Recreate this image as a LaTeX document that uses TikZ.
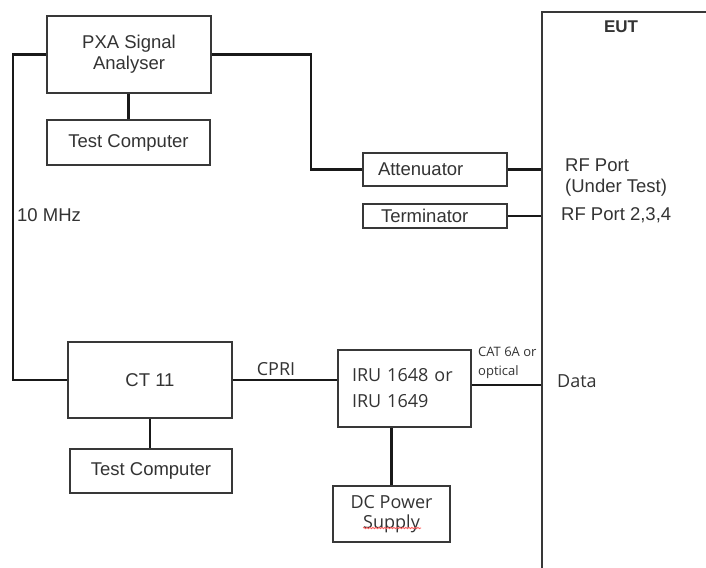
\documentclass[tikz,border=0pt]{standalone}
\usepackage{fontspec}
\setmainfont{Liberation Sans}
\newfontfamily\osans{Open Sans}
\usetikzlibrary{decorations.pathmorphing}
\begin{document}
\begin{tikzpicture}[x=1pt,y=-1pt,
  box/.style={draw=black!78, line width=1.5pt, inner sep=0pt, text=black!80,
              font=\fontsize{18.5}{21}\selectfont, align=center},
  lbox/.style={box, align=left},
  obox/.style={box, font=\osans\fontsize{18}{21}\selectfont},
  lbl/.style={inner sep=0pt, text=black!80, font=\fontsize{18.5}{21}\selectfont, align=left},
  olbl/.style={lbl, font=\osans\fontsize{18}{21}\selectfont},
  wire/.style={line width=2.3pt, black!90}]
\clip (0,0) rectangle (706,567);
\fill[white] (0,0) rectangle (706,567);

% boxes
\node[box, minimum width=164pt, minimum height=77pt] (pxa) at (129,54.5) {PXA Signal\\Analyser};
\node[box, minimum width=163pt, minimum height=45pt] (tc1) at (128.5,142.5) {Test Computer};
\node[lbox, minimum width=144pt, minimum height=33pt, inner xsep=15pt, text width=114pt] (att) at (435,169.5) {Attenuator};
\node[lbox, minimum width=144pt, minimum height=24pt, inner xsep=18pt, text width=108pt] (term) at (435,216) {Terminator};
\node[box, minimum width=218pt, minimum height=608pt] (eut) at (651,316) {};
\node[lbl, font=\bfseries\fontsize{17}{20}\selectfont] (eutlbl) at (621,27) {EUT};
\node[box, minimum width=164pt, minimum height=76pt] (ct) at (150,380) {CT 11};
\node[box, minimum width=162pt, minimum height=44pt] (tc2) at (151,471) {Test Computer};
\node[obox, align=left, minimum width=133pt, minimum height=77pt, inner xsep=14pt, text width=105pt,
      font=\osans\fontsize{18}{26}\selectfont] (iru) at (404.5,388.5) {IRU 1648 or\\IRU 1649};
\node[obox, minimum width=117pt, minimum height=56pt] (dc) at (391.5,514) {DC Power\\[-1pt]Supply\vphantom{p}};

% labels
\node[lbl, anchor=west] (rf1) at (565,177.5) {RF Port\\(Under Test)};
\node[lbl, anchor=west] (rf2) at (561,215) {RF Port 2,3,4};
\node[lbl, anchor=west] (mhz) at (17,215) {10 MHz};
\node[olbl] (cpri) at (276,369) {CPRI};
\node[olbl, anchor=west, font=\osans\fontsize{13}{19}\selectfont] (cat) at (478,362.5) {CAT 6A or\\optical};
\node[olbl, anchor=west] (data) at (557,381) {Data};

% spell-check squiggle
\draw[red!65, line width=0.8pt, decorate, decoration={snake, amplitude=0.7pt, segment length=3pt}]
  (363,528) -- (421,528);

% wires
\draw[wire] (tc1.north) -- (tc1.north |- pxa.south);
\draw[wire] (pxa.east) -- ++(99,0) |- (att.west);
\draw[wire] (pxa.west) -- ++(-33,0) |- (ct.west);
\draw[wire] (att.east) -- (att.east -| eut.west);
\draw[wire] (term.east) -- (term.east -| eut.west);
\draw[wire] (ct.east) -- (ct.east -| iru.west);
\draw[wire] (ct.south) -- (ct.south |- tc2.north);
\draw[wire] ([yshift=3.5pt]iru.east) -- ([yshift=3.5pt]iru.east -| eut.west);
\draw[wire] (dc.north) -- (dc.north |- iru.south);
\end{tikzpicture}
\end{document}
